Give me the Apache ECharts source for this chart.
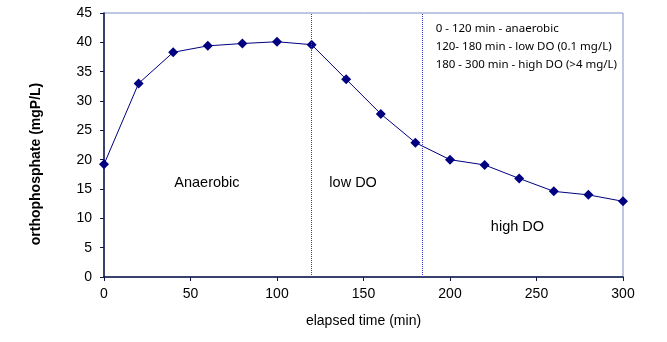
<!DOCTYPE html>
<html><head><meta charset="utf-8">
<script src="https://cdn.jsdelivr.net/npm/echarts@6/dist/echarts.min.js"></script>
<style>html,body{margin:0;padding:0;background:#fff}#c{width:667px;height:342px}</style>
</head><body><div id="c"></div>
<script>
var times = [0,20,40,60,80,100,120,140,160,180,200,220,240,260,280,300];
var phosphate = [19.2,33.0,38.3,39.4,39.8,40.1,39.6,33.7,27.8,22.9,20.0,19.1,16.8,14.6,14.0,12.9];
var phaseLines = [120,184];
var regionLabels = ['Anaerobic','low DO','high DO'];
var regionX = [59.5,144,239];
var regionY = [16,16,8.5];
var noteLines = ['0 - 120 min - anaerobic','120- 180 min - low DO (0.1 mg/L)','180 - 300 min - high DO (>4 mg/L)'];
var noteAt = [191.7,43.8];

var chart = echarts.init(document.getElementById('c'), null, {renderer:'canvas'});
var points = times.map(function(t,i){return [t, phosphate[i]];});
var mp = regionLabels.map(function(n,i){
  return {coord:[regionX[i],regionY[i]], value:n, symbol:'circle', symbolSize:0,
    label:{show:true, formatter:n, position:'inside', color:'#000', fontFamily:'Liberation Sans', fontSize:14.5}};
});
mp.push({coord:noteAt, value:'n', symbol:'circle', symbolSize:0,
  label:{show:true, formatter:noteLines.join('\n'), position:[0,0], align:'left', verticalAlign:'top',
    color:'#000', fontFamily:'Noto Sans', fontSize:11.5, lineHeight:18}});
chart.setOption({
  animation:false,
  backgroundColor:'#fff',
  grid:{left:104, right:44, top:13, bottom:65, show:true, borderColor:'#7d90c4', borderWidth:1, backgroundColor:'transparent'},
  xAxis:{type:'value', min:0, max:300, interval:50,
    name:'elapsed time (min)', nameLocation:'middle', nameGap:37,
    nameTextStyle:{fontFamily:'Liberation Sans', fontSize:14, color:'#000'},
    axisLine:{show:true, lineStyle:{color:'#0d1646', width:1.5}},
    axisTick:{show:true, length:4, lineStyle:{color:'#0d1646'}},
    axisLabel:{fontFamily:'Liberation Sans', fontSize:14, color:'#000', margin:10},
    splitLine:{show:false}},
  yAxis:{type:'value', min:0, max:45, interval:5,
    name:'orthophosphate (mgP/L)', nameLocation:'middle', nameGap:61,
    nameTextStyle:{fontFamily:'Liberation Sans', fontSize:14, fontWeight:'bold', color:'#000', padding:[0,38,0,0]},
    axisLine:{show:true, lineStyle:{color:'#0d1646', width:1.5}},
    axisTick:{show:true, length:4, lineStyle:{color:'#0d1646'}},
    axisLabel:{fontFamily:'Liberation Sans', fontSize:14, color:'#000', margin:12},
    splitLine:{show:false}},
  series:[{
    type:'line', data:points, symbol:'diamond', symbolSize:10,
    itemStyle:{color:'#000080'}, lineStyle:{color:'#000080', width:1},
    markLine:{silent:true, symbol:'none', label:{show:false},
      lineStyle:{color:'#3a3ad0', type:'dotted', width:1},
      data:phaseLines.map(function(v){return {xAxis:v};})},
    markPoint:{silent:true, data:mp}
  }]
});
</script></body></html>
